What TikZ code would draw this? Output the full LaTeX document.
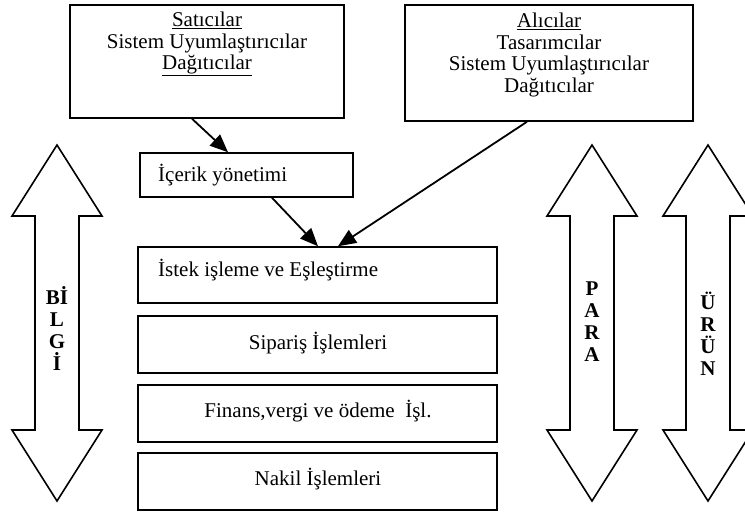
\documentclass[tikz,border=0pt]{standalone}
\usepackage{fontspec}
\setmainfont{Liberation Serif}
\usetikzlibrary{arrows.meta}
\begin{document}
\begin{tikzpicture}[x=1pt,y=-1pt,
  box/.style={draw, line width=1.5pt, rectangle, inner sep=0pt},
  boxtext/.style={font=\fontsize{21}{21.5}\selectfont, inner sep=0pt, align=center},
  flow/.style={line width=1.8pt, -{Triangle[length=18pt,width=15pt]}},
  bigarrow/.style={draw, line width=1.6pt, fill=white, line join=miter},
  vlabel/.style={font=\fontsize{21}{22}\selectfont\bfseries, inner sep=0pt, align=center},
  dblarrow/.pic={\draw[bigarrow] (0,0) -- (45,71) -- (22,71) -- (22,285) -- (45,285)
      -- (0,356) -- (-45,285) -- (-22,285) -- (-22,71) -- (-45,71) -- cycle;}]
\useasboundingbox (0,0) rectangle (745,512);
\clip (0,0) rectangle (745,512);

% participant boxes
\node[box, minimum width=274pt, minimum height=113pt] (sat) at (207,61.5) {};
\node[boxtext] (sattext) at (207,44) {\underline{Satıcılar}\\Sistem Uyumlaştırıcılar\\\underline{Dağıtıcılar}};
\node[box, minimum width=288pt, minimum height=116pt] (alici) at (549,63) {};
\node[boxtext] (alicitext) at (549,55) {\underline{Alıcılar}\\Tasarımcılar\\Sistem Uyumlaştırıcılar\\Dağıtıcılar};

% process boxes
\node[box, minimum width=213pt, minimum height=44pt] (icerik) at (246.5,175) {};
\node[boxtext, anchor=west] (iceriktext) at (158,175) {İçerik yönetimi};
\node[box, minimum width=359pt, minimum height=56pt] (istek) at (317.5,275) {};
\node[boxtext, anchor=west] (istektext) at (158,270) {İstek işleme ve Eşleştirme};
\node[box, minimum width=359pt, minimum height=57pt] (siparis) at (317.5,344.5) {};
\node[boxtext] (siparistext) at (318,343) {Sipariş İşlemleri};
\node[box, minimum width=359pt, minimum height=57pt] (finans) at (317.5,413.5) {};
\node[boxtext] (finanstext) at (318,411) {Finans,vergi ve ödeme\ \ İşl.};
\node[box, minimum width=359pt, minimum height=57pt] (nakil) at (317.5,481.5) {};
\node[boxtext] (nakiltext) at (318,479) {Nakil İşlemleri};

% flow arrows
\draw[flow] ([xshift=-15pt]sat.south) -- ([xshift=-18.5pt]icerik.north);
\draw[flow] ([xshift=25.5pt]icerik.south) -- ([xshift=0.5pt]istek.north);
\draw[flow] ([xshift=-22pt]alici.south) -- ([xshift=20.5pt]istek.north);

% double-headed flow arrows
\pic at (57,145) {dblarrow};
\pic at (592,145) {dblarrow};
\pic at (708,145) {dblarrow};
\node[vlabel] (bilgi) at (57,328) {Bİ\\L\\G\\İ};
\node[vlabel] (para) at (592,322) {P\\A\\R\\A};
\node[vlabel] (urun) at (708,334) {Ü\\R\\Ü\\N};
\end{tikzpicture}
\end{document}
